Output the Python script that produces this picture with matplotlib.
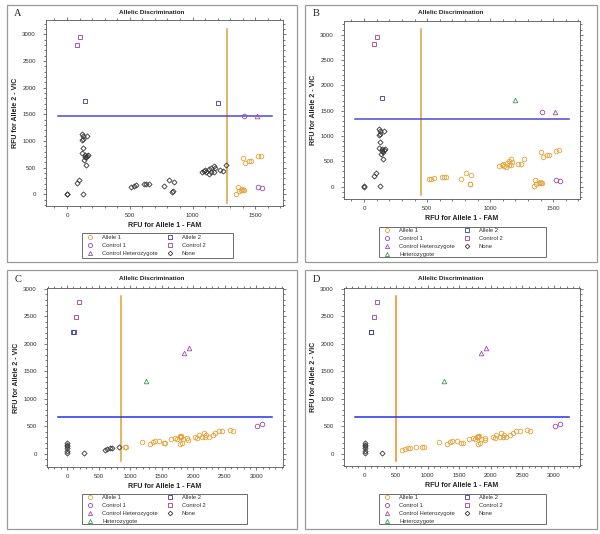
import matplotlib
matplotlib.use("Agg")
import matplotlib.pyplot as plt
from matplotlib.ticker import MultipleLocator
from matplotlib.lines import Line2D
from matplotlib.patches import Rectangle

plt.rcParams['font.family'] = ['Liberation Sans', 'DejaVu Sans']

# ---------------- data: panels A and B (same wells, different calls) ----------------
fam_ab = [80, 101, 143, 1200, 1412, 1521, 1556, 1513,
          1399, 1420, 1447, 1468, 1521, 1545, 1359, 1349, 1367, 1386, 1402, 1395, 1410,
          0, 3, 124, 80, 98, 119, 159, 124, 119, 127, 124, 119, 140, 159, 151, 132, 151, 165, 146,
          512, 531, 552, 616, 630, 650, 770, 810, 849, 836, 843,
          1073, 1094, 1110, 1128, 1134, 1147, 1168, 1168, 1176, 1221, 1242, 1269, 1100, 1150]
vic_ab = [2806, 2956, 1750, 1706, 1475, 131, 112, 1475,
          688, 594, 625, 619, 712, 719, 131, 5, 62, 81, 81, 100, 75,
          0, 5, 5, 218, 268, 1129, 1099, 1093, 1018, 1030, 874, 769, 737, 724, 694, 643, 550, 740, 700,
          144, 156, 169, 187, 200, 200, 156, 269, 237, 50, 55,
          412, 431, 412, 387, 475, 425, 419, 537, 487, 456, 444, 550, 450, 500]
call_a = (['Control 2'] * 2 + ['Allele 2'] * 2 + ['Control 1'] * 3 + ['Control Heterozygote']
          + ['Allele 1'] * 13 + ['None'] * 19 + ['None'] * 11 + ['None'] * 14)
call_b = (['Control 2'] * 2 + ['Allele 2', 'Heterozygote'] + ['Control 1'] * 3 + ['Control Heterozygote']
          + ['Allele 1'] * 13 + ['None'] * 19 + ['Allele 1'] * 11 + ['Allele 1'] * 14)

# ---------------- data: panels C and D ----------------
fam_cd = [190, 148, 95, 105, 1849, 1928, 1257, 3010, 3096,
          0, 0, 0, 0, 0, 5, 275,
          596, 634, 686, 713, 818,
          913, 940, 1183, 1310, 1357, 1389, 1463, 1531, 1557, 1653, 1716, 1743, 1784, 1807,
          1838, 1822, 1796, 1902, 1912, 2034, 2061, 2086, 2139, 2165, 2193, 2208, 2245, 2309,
          2351, 2403, 2457, 2578, 2625, 1800, 1790]
vic_cd = [2758, 2497, 2212, 2215, 1830, 1927, 1333, 510, 545,
          7, 55, 98, 140, 189, 160, 5,
          67, 85, 110, 98, 116,
          116, 125, 205, 182, 213, 231, 225, 195, 189, 261, 280, 273, 298, 322,
          262, 200, 182, 280, 242, 303, 291, 340, 309, 371, 297, 340, 309, 339,
          370, 420, 418, 430, 418, 310, 330]
call_c = (['Control 2'] * 2 + ['Allele 2'] * 2 + ['Control Heterozygote'] * 2 + ['Heterozygote']
          + ['Control 1'] * 2 + ['None'] * 7 + ['None'] * 5 + ['Allele 1'] * 35)
call_d = (['Control 2'] * 2 + ['Allele 2'] * 2 + ['Control Heterozygote'] * 2 + ['Heterozygote']
          + ['Control 1'] * 2 + ['None'] * 7 + ['Allele 1'] * 5 + ['Allele 1'] * 35)

# threshold lines: (vertical x, horizontal y)
thr_a = (1274, 1469)
thr_b = (450, 1340)
thr_c = (861, 667)
thr_d = (503, 667)

panel_labels = ['A', 'B', 'C', 'D']
title_text = 'Allelic Discrimination'
x_label = 'RFU for Allele 1 - FAM'
y_label = 'RFU for Allele 2 - VIC'

styles = {
    'Allele 1': dict(marker='o', color='#E5A23A'),
    'Allele 2': dict(marker='s', color='#3A3AA8'),
    'Control 1': dict(marker='o', color='#9A4AAE'),
    'Control 2': dict(marker='s', color='#A03C9C'),
    'Control Heterozygote': dict(marker='^', color='#A04AB4'),
    'Heterozygote': dict(marker='^', color='#3C9A5A'),
    'None': dict(marker='D', color='#333333'),
}
order_a = ['Allele 1', 'Control 1', 'Control Heterozygote', 'Allele 2', 'Control 2', 'None']
order_b = ['Allele 1', 'Control 1', 'Control Heterozygote', 'Heterozygote', 'Allele 2', 'Control 2', 'None']

W, H = 600, 534
fig = plt.figure(figsize=(W / 100, H / 100), dpi=100)

# background overlay for panel frames and legend boxes
bg = fig.add_axes([0, 0, 1, 1])
bg.set_xlim(0, W)
bg.set_ylim(H, 0)
bg.axis('off')
for (l, t, r, b) in [(7, 5, 297, 262), (305, 5, 597, 262), (7, 270, 297, 529), (305, 270, 597, 529)]:
    bg.add_patch(Rectangle((l, t), r - l, b - t, fill=False, ec='#9a9a9a', lw=0.9))


def px_axes(l, t, r, b):
    return fig.add_axes([l / W, 1 - b / H, (r - l) / W, (b - t) / H])


panels = [
    dict(box=(46, 20, 283, 206), xlim=(-167, 1720), ylim=(-219, 3269), fam=fam_ab, vic=vic_ab, call=call_a,
         thr=thr_a, vext=(-156, 3094), hext=(-74, 1633), vcol='#D8A23A', hcol='#4A4AD8',
         order=order_a, leg=(82, 233, 233, 258), legoff=2.3, frame=(7, 297), lab=(18, 14), ttl_y=13, xmax=1500),
    dict(box=(344, 21, 580, 199), xlim=(-159, 1712), ylim=(-243, 3269), fam=fam_ab, vic=vic_ab, call=call_b,
         thr=thr_b, vext=(-164, 3119), hext=(-74, 1627), vcol='#D8A23A', hcol='#4A4AD8',
         order=order_b, leg=(379, 227, 546, 257), legoff=1.4, frame=(305, 597), lab=(316, 14), ttl_y=13, xmax=1500),
    dict(box=(47, 288, 283, 467), xlim=(-317, 3423), ylim=(-242, 3018), fam=fam_cd, vic=vic_cd, call=call_c,
         thr=thr_c, vext=(-133, 2879), hext=(-148, 3249), vcol='#E0A030', hcol='#2233EE',
         order=order_b, leg=(82, 494, 247, 524), legoff=1.4, frame=(7, 297), lab=(18, 279), ttl_y=279, xmax=3000),
    dict(box=(344, 288, 580, 466), xlim=(-328, 3413), ylim=(-224, 3018), fam=fam_cd, vic=vic_cd, call=call_d,
         thr=thr_d, vext=(-133, 2879), hext=(-159, 3243), vcol='#F08A1C', hcol='#2233EE',
         order=order_b, leg=(379, 494, 546, 524), legoff=1.4, frame=(305, 597), lab=(316, 279), ttl_y=279, xmax=3000),
]

for i, p in enumerate(panels):
    ax = px_axes(*p['box'])
    ax.set_xlim(*p['xlim'])
    ax.set_ylim(*p['ylim'])
    handles = {}
    for cat in p['order']:
        xs = [x for x, c in zip(p['fam'], p['call']) if c == cat]
        ys = [y for y, c in zip(p['vic'], p['call']) if c == cat]
        st = styles[cat]
        ms = 2.6 if cat == 'None' else 3.3
        ax.plot(xs, ys, linestyle='none', marker=st['marker'], markersize=ms, markerfacecolor='none',
                markeredgecolor=st['color'], markeredgewidth=0.6, zorder=3)
        handles[cat] = Line2D([], [], linestyle='none', marker=st['marker'], markersize=ms * 0.9,
                              markerfacecolor='none', markeredgecolor=st['color'], markeredgewidth=0.6)
    vx, hy = p['thr']
    ax.plot([vx, vx], list(p['vext']), color=p['vcol'], lw=1.1, zorder=2)
    ax.plot(list(p['hext']), [hy, hy], color=p['hcol'], lw=1.1, zorder=2)

    ax.xaxis.set_minor_locator(MultipleLocator(100))
    ax.yaxis.set_minor_locator(MultipleLocator(100))
    ax.set_xticks([t for t in range(0, p['xmax'] + 1, 500)])
    ax.set_yticks(list(range(0, 3001, 500)))
    ax.tick_params(which='both', direction='out', top=True, right=True, color='#444444', width=0.5,
                   labelsize=4.4, labelcolor='#333333')
    ax.tick_params(which='major', length=2.4)
    ax.tick_params(which='minor', length=1.3)
    ax.tick_params(axis='y', which='major', pad=5)
    ax.tick_params(axis='x', which='major', pad=2.5)
    for s in ax.spines.values():
        s.set_color('#555555')
        s.set_linewidth(0.6)
    ax.set_xlabel(x_label, fontsize=5, fontweight='bold', color='#222222', labelpad=3)
    ax.set_ylabel(y_label, fontsize=5, fontweight='bold', color='#222222', labelpad=2)

    fl, fr = p['frame']
    fig.text((fl + fr) / 2 / W, 1 - p['ttl_y'] / H, title_text, ha='center', va='center',
             fontsize=4.6, fontweight='bold', color='#222222')
    fig.text(p['lab'][0] / W, 1 - p['lab'][1] / H, panel_labels[i], ha='center', va='center',
             fontsize=7.5, family='Liberation Serif', color='#222222')

    ll, lt, lr, lb = p['leg']
    bg.add_patch(Rectangle((ll, lt), lr - ll, lb - lt, fill=False, ec='#555555', lw=0.6))
    hs = [handles[c] for c in p['order']]
    leg = fig.legend(hs, p['order'], loc='upper left',
                     bbox_to_anchor=((ll + 5) / W, 1 - (lt + p['legoff']) / H),
                     bbox_transform=fig.transFigure, ncol=2, borderaxespad=0,
                     fontsize=4.2, frameon=False, handlelength=1.0, handletextpad=1.6,
                     labelspacing=0.5, borderpad=0, columnspacing=1.5)
    for t in leg.get_texts():
        t.set_color('#333333')

fig.savefig('out.png', dpi=100)
